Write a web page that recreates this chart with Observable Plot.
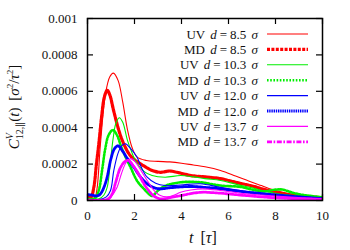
<!DOCTYPE html>
<html><head><meta charset="utf-8">
<script src="https://cdn.jsdelivr.net/npm/d3@7"></script>
<script src="https://cdn.jsdelivr.net/npm/@observablehq/plot@0.6"></script>
<style>
body{margin:0;background:#fff}
svg{display:block}
svg text, svg tspan { font-family: "Liberation Serif", serif !important; fill: #111; }
</style>
</head><body><div id="chart"></div>
<script>
// ---- data ----
const xTicks = [0, 2, 4, 6, 8, 10];
const yTicks = [0, 0.0002, 0.0004, 0.0006, 0.0008, 0.001];
const seriesKinds = ["UV", "MD", "UV", "MD", "UV", "MD", "UV", "MD"];
const seriesD = ["8.5", "8.5", "10.3", "10.3", "12.0", "12.0", "13.7", "13.7"];
const seriesColors = ["#ff0000", "#ff0000", "#00ee00", "#00ee00", "#0000ff", "#0000ff", "#ff00ff", "#ff00ff"];

const uv85_t = [0, 0.3, 0.4, 0.55, 0.77, 0.95, 1.1, 1.3, 1.5, 1.7, 1.9, 2.1, 2.5, 3.0, 3.5, 4.0, 4.5, 5.0, 5.66, 6.3, 7.0, 7.4, 8.0, 8.5, 9.0, 9.5, 10];
const uv85_v = [0.2e-4, 0.15e-4, 0.6e-4, 3.1e-4, 5.9e-4, 6.8e-4, 7.0e-4, 6.6e-4, 5.4e-4, 3.9e-4, 2.9e-4, 2.4e-4, 2.2e-4, 2.15e-4, 2.12e-4, 2.05e-4, 1.95e-4, 1.85e-4, 1.65e-4, 1.35e-4, 1.0e-4, 0.82e-4, 0.55e-4, 0.4e-4, 0.3e-4, 0.22e-4, 0.15e-4];

const md85_t = [0, 0.15, 0.27, 0.38, 0.48, 0.6, 0.72, 0.84, 0.95, 1.1, 1.3, 1.45, 1.62, 1.8, 2.04, 2.4, 2.75, 3.1, 3.5, 3.8, 4.4, 5.0, 5.66, 6.3, 7.0, 7.4, 8.0, 8.5, 9.0, 9.5, 10];
const md85_v = [0.2e-4, 0.2e-4, 0.73e-4, 2.0e-4, 3.1e-4, 4.6e-4, 5.7e-4, 6.05e-4, 5.8e-4, 5.0e-4, 4.0e-4, 3.4e-4, 2.9e-4, 2.5e-4, 2.2e-4, 1.9e-4, 1.65e-4, 1.55e-4, 1.62e-4, 1.55e-4, 1.37e-4, 1.3e-4, 1.2e-4, 1.0e-4, 0.8e-4, 0.65e-4, 0.45e-4, 0.32e-4, 0.25e-4, 0.2e-4, 0.15e-4];

const uv103_t = [0, 0.5, 0.7, 0.84, 0.98, 1.1, 1.2, 1.35, 1.5, 1.7, 1.9, 2.04, 2.4, 2.75, 3.3, 3.96, 4.5, 5.0, 5.66, 6.3, 7.0, 7.4, 8.0, 9.0, 10];
const uv103_v = [0.1e-4, 0.1e-4, 0.3e-4, 0.73e-4, 2.2e-4, 3.5e-4, 4.2e-4, 4.55e-4, 4.3e-4, 3.3e-4, 2.6e-4, 2.2e-4, 1.6e-4, 1.37e-4, 1.28e-4, 1.37e-4, 1.3e-4, 1.2e-4, 1.1e-4, 0.9e-4, 0.7e-4, 0.55e-4, 0.4e-4, 0.25e-4, 0.15e-4];

const md103_t = [0, 0.3, 0.48, 0.62, 0.75, 0.9, 1.08, 1.25, 1.45, 1.65, 1.83, 2.1, 2.4, 2.75, 2.96, 3.3, 3.96, 4.8, 5.66, 6.5, 7.0, 7.5, 8.0, 8.3, 8.8, 9.5, 10];
const md103_v = [0.1e-4, 0.1e-4, 0.55e-4, 1.65e-4, 2.8e-4, 3.6e-4, 3.87e-4, 3.6e-4, 2.9e-4, 2.3e-4, 1.83e-4, 1.1e-4, 0.64e-4, 0.25e-4, 0.5e-4, 0.8e-4, 1.0e-4, 1.0e-4, 0.82e-4, 0.75e-4, 0.6e-4, 0.5e-4, 0.6e-4, 0.6e-4, 0.4e-4, 0.25e-4, 0.18e-4];

const uv120_t = [0, 0.5, 0.8, 0.98, 1.12, 1.3, 1.45, 1.62, 1.8, 2.1, 2.3, 2.54, 2.9, 3.3, 3.96, 4.8, 5.66, 6.5, 7.4, 8.5, 10];
const uv120_v = [0.05e-4, 0.05e-4, 0.2e-4, 0.55e-4, 1.65e-4, 2.6e-4, 3.0e-4, 3.12e-4, 2.9e-4, 2.4e-4, 1.8e-4, 1.28e-4, 0.95e-4, 0.82e-4, 0.85e-4, 0.92e-4, 0.72e-4, 0.55e-4, 0.4e-4, 0.25e-4, 0.12e-4];

const md120_t = [0, 0.2, 0.35, 0.5, 0.62, 0.75, 0.84, 1.0, 1.15, 1.3, 1.5, 1.75, 1.97, 2.25, 2.54, 2.8, 3.1, 3.5, 4.4, 5.0, 5.66, 6.5, 7.4, 8.5, 10];
const md120_v = [0.32e-4, 0.3e-4, 0.25e-4, 0.3e-4, 0.5e-4, 0.9e-4, 1.3e-4, 2.3e-4, 2.85e-4, 3.0e-4, 2.7e-4, 2.2e-4, 1.83e-4, 1.3e-4, 0.92e-4, 0.72e-4, 0.64e-4, 0.7e-4, 0.77e-4, 0.72e-4, 0.64e-4, 0.5e-4, 0.38e-4, 0.25e-4, 0.1e-4];

const uv137_t = [0, 0.8, 1.0, 1.26, 1.45, 1.65, 1.85, 2.05, 2.3, 2.54, 2.8, 3.1, 3.4, 3.7, 3.96, 4.4, 4.9, 5.66, 6.5, 7.4, 8.5, 10];
const uv137_v = [0.0, 0.0, 0.2e-4, 0.73e-4, 1.5e-4, 2.1e-4, 2.3e-4, 2.1e-4, 1.6e-4, 1.1e-4, 0.6e-4, 0.27e-4, 0.2e-4, 0.3e-4, 0.45e-4, 0.58e-4, 0.64e-4, 0.55e-4, 0.4e-4, 0.3e-4, 0.2e-4, 0.1e-4];

const md137_t = [0, 0.7, 0.9, 1.05, 1.2, 1.4, 1.6, 1.75, 1.95, 2.2, 2.4, 2.6, 2.8, 3.1, 3.5, 3.96, 4.8, 5.66, 6.5, 7.4, 8.5, 10];
const md137_v = [0.02e-4, 0.02e-4, 0.1e-4, 0.36e-4, 1.0e-4, 1.8e-4, 2.15e-4, 2.2e-4, 1.9e-4, 1.4e-4, 0.92e-4, 0.55e-4, 0.27e-4, 0.09e-4, 0.15e-4, 0.27e-4, 0.45e-4, 0.4e-4, 0.3e-4, 0.2e-4, 0.12e-4, 0.05e-4];

const seriesT = [uv85_t, md85_t, uv103_t, md103_t, uv120_t, md120_t, uv137_t, md137_t];
const seriesV = [uv85_v, md85_v, uv103_v, md103_v, uv120_v, md120_v, uv137_v, md137_v];

// ---- styles ----
const styles = [
  {strokeWidth: 1.1, dash: null},
  {strokeWidth: 3.2, dash: "3,1.4"},
  {strokeWidth: 1.1, dash: null},
  {strokeWidth: 2.6, dash: "1.6,1.6"},
  {strokeWidth: 1.1, dash: null},
  {strokeWidth: 2.8, dash: "1.4,0.8"},
  {strokeWidth: 1.1, dash: null},
  {strokeWidth: 2.8, dash: "5,1.6,1.6,1.6"}
];

const W = 350, H = 250;
const mL = 87, mR = 28, mT = 18, mB = 50;
const innerW = W - mL - mR, innerH = H - mT - mB;
const tickLen = 6;
const font = "Liberation Serif, serif";

const rows = seriesT.map((ts, i) => ts.map((t, j) => ({t, v: seriesV[i][j], s: i})));

const yFmt = d => d === 0 ? "0" : (d === 0.001 ? "0.001" : d.toFixed(4));

const marks = [];
rows.forEach((r, i) => {
  marks.push(Plot.line(r, {
    x: "t", y: "v", stroke: seriesColors[i], strokeWidth: styles[i].strokeWidth,
    strokeDasharray: styles[i].dash, curve: "catmull-rom", clip: true
  }));
});
marks.push(
  Plot.ruleX(xTicks, {stroke: "black", strokeWidth: 1.2, insetTop: innerH - tickLen}),
  Plot.ruleX(xTicks, {stroke: "black", strokeWidth: 1.2, insetBottom: innerH - tickLen}),
  Plot.ruleY(yTicks, {stroke: "black", strokeWidth: 1.2, insetRight: innerW - tickLen}),
  Plot.ruleY(yTicks, {stroke: "black", strokeWidth: 1.2, insetLeft: innerW - tickLen}),
  Plot.axisX(xTicks, {tickSize: 0, tickPadding: 10, label: null, fontSize: 13}),
  Plot.axisY(yTicks, {tickSize: 0, tickPadding: 10, label: null, tickFormat: yFmt, fontSize: 13}),
  Plot.frame({stroke: "black", strokeWidth: 1.5})
);

const chart = Plot.plot({
  width: W, height: H,
  marginLeft: mL, marginRight: mR, marginTop: mT, marginBottom: mB,
  style: {fontFamily: font, background: "white", color: "black"},
  x: {domain: [0, 10]},
  y: {domain: [0, 0.001]},
  marks
});
document.getElementById("chart").appendChild(chart);

const svg = d3.select(chart);

// legend
const legEndX = 258, sampleX1 = 267, sampleX2 = 308, legY0 = 34, legDy = 15.4;
const lg = svg.append("g").attr("font-size", 13);
seriesKinds.forEach((k, i) => {
  const y = legY0 + i * legDy;
  const t = lg.append("text").attr("x", legEndX).attr("y", y).attr("dy", "0.35em").attr("text-anchor", "end");
  t.append("tspan").text(k + " ");
  t.append("tspan").attr("font-style", "italic").attr("dx", 2).text("d");
  t.append("tspan").attr("dx", 3).text("=");
  t.append("tspan").attr("dx", 3).text(seriesD[i]);
  t.append("tspan").attr("dx", 2).attr("font-style", "italic").text(" σ");
  lg.append("line").attr("x1", sampleX1).attr("x2", sampleX2).attr("y1", y).attr("y2", y)
    .attr("stroke", seriesColors[i]).attr("stroke-width", styles[i].strokeWidth)
    .attr("stroke-dasharray", styles[i].dash);
});

// x label
const xl = svg.append("text").attr("x", 203).attr("y", 243).attr("text-anchor", "middle").attr("font-size", 16);
xl.append("tspan").attr("font-style", "italic").text("t");
xl.append("tspan").attr("dx", 3).text(" [");
xl.append("tspan").attr("font-style", "italic").text("τ");
xl.append("tspan").text("]");

// y label
const yl = svg.append("text").attr("transform", "translate(19,107) rotate(-90)")
  .attr("text-anchor", "middle").attr("font-size", 15);
yl.append("tspan").attr("font-style", "italic").text("C");
yl.append("tspan").attr("font-style", "italic").attr("font-size", 10).attr("dy", -6).text("V");
yl.append("tspan").attr("font-size", 10).attr("dx", -6).attr("dy", 10).text("12,∥");
yl.append("tspan").attr("dy", -4).text("(");
yl.append("tspan").attr("font-style", "italic").text("t");
yl.append("tspan").text(")");
yl.append("tspan").attr("dx", 3).text(" [");
yl.append("tspan").attr("font-style", "italic").text("σ");
yl.append("tspan").attr("font-size", 9).attr("dy", -6).text("2");
yl.append("tspan").attr("dy", 6).text("/");
yl.append("tspan").attr("font-style", "italic").text("τ");
yl.append("tspan").attr("font-size", 9).attr("dy", -6).text("2");
yl.append("tspan").attr("dy", 6).text("]");
</script>
</body></html>
